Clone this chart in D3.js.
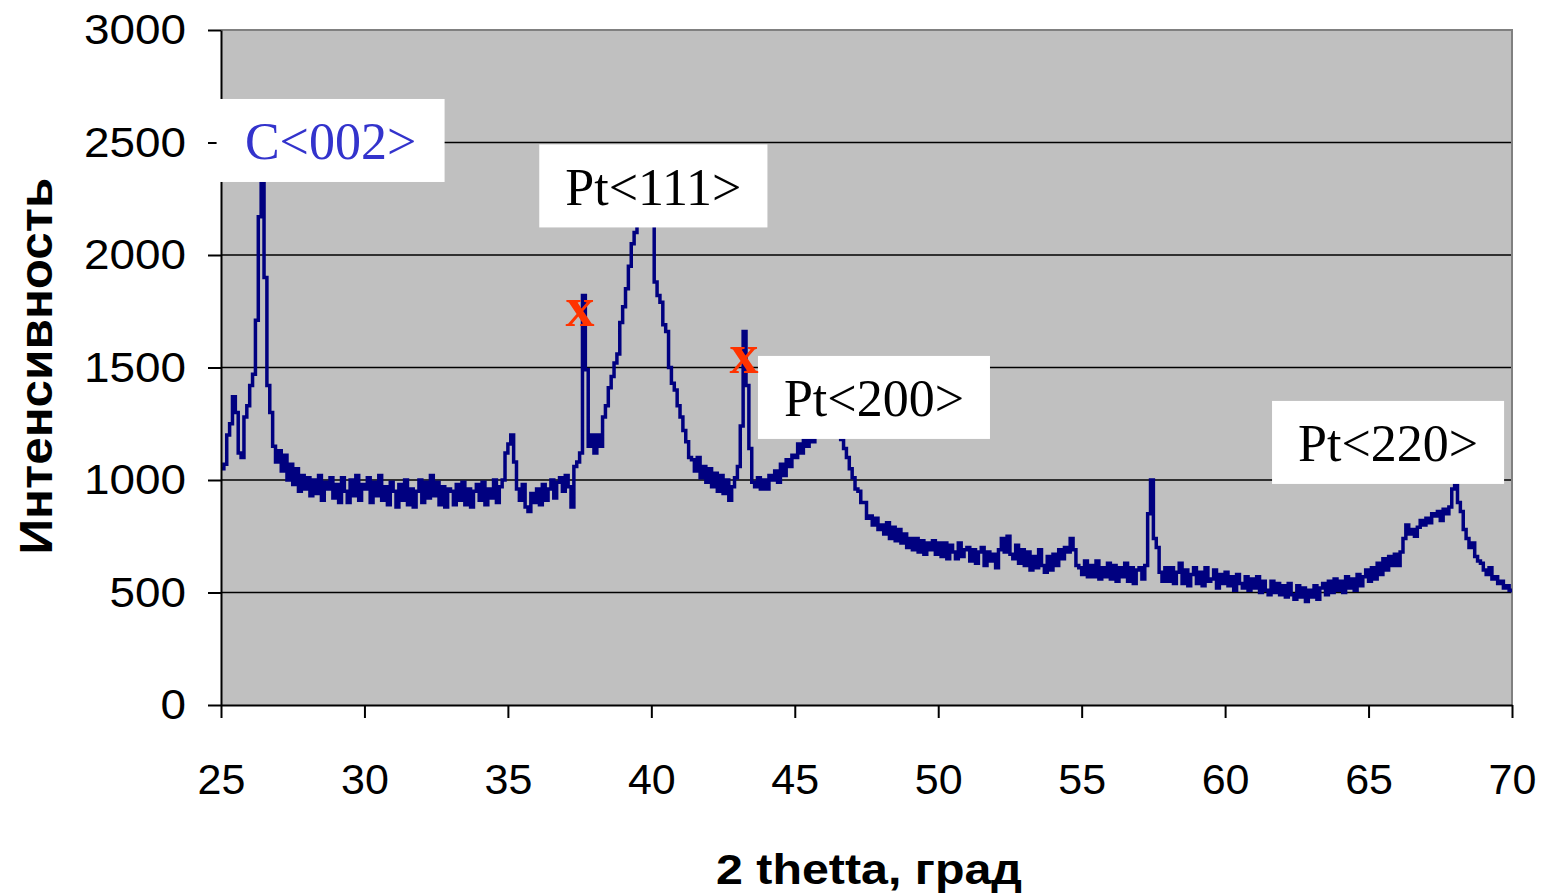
<!DOCTYPE html>
<html lang="ru">
<head>
    <meta charset="utf-8" />
    <title>XRD</title>
    <script src="https://d3js.org/d3.v7.js"></script>
    <style>
        body, html {
            margin: 0;
            background: #ffffff;
        }
        .tick text {
            font-family: "Liberation Sans", Arial, sans-serif;
            font-size: 43px;
            fill: #000;
        }
        .axisTitle {
            font-family: "Liberation Sans", Arial, sans-serif;
            font-weight: bold;
            fill: #000;
        }
        .peak {
            font-family: "Liberation Serif", "Times New Roman", serif;
            font-size: 52px;
        }
        .mark {
            font-family: "Liberation Serif", "Times New Roman", serif;
            font-weight: bold;
            font-size: 58px;
            fill: #ff3300;
        }
    </style>
</head>
<body>
    <div id="canvas"></div>
</body>
</html>
<script>
    // 2 theta grid: 25..70 deg, step 0.1
    let thetaStart = 25
    let thetaStep = 0.1

    // intensity, one row per degree
    let intensity = [
        1050, 1070, 1200, 1250, 1370, 1300, 1120, 1100, 1280, 1330,
        1420, 1470, 1710, 2170, 2450, 1900, 1420, 1300, 1150, 1080,
        1130, 1040, 1110, 1000, 1070, 980, 1050, 950, 1020, 960,
        1010, 930, 1000, 940, 1020, 910, 990, 960, 1010, 920,
        980, 900, 1010, 950, 900, 1000, 930, 1020, 910, 980,
        960, 1010, 900, 990, 930, 1020, 910, 970, 890, 990,
        950, 880, 980, 910, 1000, 890, 960, 880, 950, 1000,
        900, 990, 920, 1020, 930, 990, 890, 970, 880, 960,
        950, 890, 980, 910, 990, 890, 960, 880, 950, 980,
        910, 990, 890, 960, 920, 1000, 900, 970, 1000, 1120,
        1160, 1200, 1080, 960, 910, 980, 880, 860, 940, 900,
        960, 890, 980, 910, 960, 1000, 920, 990, 1010, 950,
        1020, 970, 880, 1060, 1080, 1120, 1820, 1490, 1150, 1200,
        1120, 1200, 1150, 1280, 1330, 1410, 1460, 1520, 1560, 1700,
        1770, 1850, 1950, 2050, 2100, 2150, 2180, 2200, 2160, 2190,
        2150, 1880, 1820, 1790, 1690, 1660, 1500, 1430, 1400, 1330,
        1280, 1220, 1170, 1100, 1090, 1040, 1100, 1010, 1060, 990,
        1050, 970, 1030, 950, 1020, 940, 1000, 910, 970, 1010,
        1060, 1240, 1660, 1420, 1140, 990, 970, 1010, 960, 1000,
        960, 1020, 1000, 1040, 990, 1070, 1020, 1090, 1060, 1110,
        1100, 1160, 1120, 1190, 1150, 1210, 1170, 1240, 1200, 1250,
        1250, 1230, 1260, 1240, 1230, 1210, 1180, 1140, 1100, 1050,
        1010, 960, 950, 900, 900, 830, 840, 800, 830, 780,
        800, 760, 810, 740, 790, 730, 780, 720, 760, 700,
        740, 690, 740, 680, 730, 670, 720, 690, 730, 670,
        720, 660, 720, 650, 710, 680, 650, 720, 660, 690,
        700, 640, 690, 630, 680, 700, 620, 680, 640, 670,
        610, 690, 740, 680, 750, 670, 650, 710, 630, 690,
        620, 680, 600, 660, 610, 690, 620, 590, 660, 600,
        670, 620, 690, 650, 700, 680, 740, 690, 620, 610,
        580, 640, 570, 620, 570, 640, 560, 610, 570, 630,
        560, 620, 550, 610, 570, 630, 550, 610, 540, 600,
        610, 560, 620, 850, 1000, 740, 700, 590, 550, 610,
        550, 610, 540, 590, 630, 540, 600, 530, 580, 610,
        540, 590, 530, 610, 550, 560, 600, 520, 580, 540,
        590, 530, 570, 510, 580, 540, 520, 570, 510, 560,
        520, 570, 500, 550, 510, 490, 550, 500, 540, 490,
        530, 480, 540, 490, 470, 530, 480, 520, 460, 510,
        480, 530, 470, 520, 540, 490, 550, 500, 560, 510,
        550, 500, 570, 520, 560, 510, 580, 530, 570, 600,
        550, 610, 560, 630, 580, 650, 600, 660, 620, 670,
        620, 680, 740, 800, 760, 780, 750, 790, 820, 800,
        830, 810, 850, 840, 860, 820, 870, 850, 880, 960,
        980, 900, 860, 780, 740, 700, 720, 660, 640, 630,
        600, 580, 610, 560, 570, 540, 550, 520, 530, 510,
        500
    ]

    let xTicks = [25, 30, 35, 40, 45, 50, 55, 60, 65, 70]
    let yTicks = [0, 500, 1000, 1500, 2000, 2500, 3000]

    // peak labels (anchor = box centre in data units)
    let peakNames = ["C<002>", "Pt<111>", "Pt<200>", "Pt<220>"]
    let peakTheta = [28.82, 40.07, 47.76, 65.68]
    let peakLevel = [2509, 2307, 1367, 1167]
    let peakColor = ["#3333cc", "#000", "#000", "#000"]

    // unidentified reflexes marked with x
    let markTheta = [37.51, 43.23]
    let markLevel = [1742, 1533]

    let data = intensity.map((v, i) => ({ t: thetaStart + i * thetaStep, v: v }))

    let width = 1544, height = 894
    let margin = { left: 221, right: 32, top: 30, bottom: 189 }

    let svg = d3.select("#canvas")
        .append("svg")
        .attr("width", width)
        .attr("height", height)

    let xScale = d3.scaleLinear()
        .domain([25, 70])
        .range([margin.left, width - margin.right])

    let yScale = d3.scaleLinear()
        .domain([0, 3000])
        .range([height - margin.bottom, margin.top])

    // plot background
    svg.append("rect")
        .attr("x", xScale(25)).attr("y", yScale(3000))
        .attr("width", xScale(70) - xScale(25))
        .attr("height", yScale(0) - yScale(3000))
        .style("fill", "#c0c0c0")

    // horizontal grid
    svg.append("g")
        .selectAll("line")
        .data(yTicks.filter(d => d > 0 && d < 3000))
        .enter()
        .append("line")
        .attr("x1", xScale(25)).attr("x2", xScale(70))
        .attr("y1", d => yScale(d)).attr("y2", d => yScale(d))
        .style("stroke", "#000")
        .style("stroke-width", 1.5)

    // top and right border (grey)
    svg.append("path")
        .attr("d", `M${xScale(25)},${yScale(3000)}H${xScale(70)}V${yScale(0)}`)
        .style("fill", "none")
        .style("stroke", "#808080")
        .style("stroke-width", 2)

    // spectrum
    svg.append("clipPath").attr("id", "plotClip")
        .append("rect")
        .attr("x", xScale(25)).attr("y", yScale(3000))
        .attr("width", xScale(70) - xScale(25))
        .attr("height", yScale(0) - yScale(3000))

    let line = d3.line()
        .x(d => xScale(d.t))
        .y(d => yScale(d.v))
        .curve(d3.curveStepAfter)

    svg.append("path")
        .datum(data)
        .attr("clip-path", "url(#plotClip)")
        .attr("d", line)
        .style("fill", "none")
        .style("stroke", "#000080")
        .style("stroke-width", 3.5)
        .style("stroke-linejoin", "miter")

    // axes
    let xAxis = d3.axisBottom(xScale)
        .tickValues(xTicks)
        .tickSize(13)
        .tickPadding(45)
        .tickSizeOuter(0)

    let yAxis = d3.axisLeft(yScale)
        .tickValues(yTicks)
        .tickFormat(d3.format("d"))
        .tickSize(13)
        .tickPadding(22)
        .tickSizeOuter(0)

    let gx = svg.append("g")
        .attr("transform", `translate(0, ${yScale(0)})`)
        .call(xAxis)

    let gy = svg.append("g")
        .attr("transform", `translate(${xScale(25)}, 0)`)
        .call(yAxis)

    gx.selectAll(".domain, .tick line").style("stroke", "#000").style("stroke-width", 2)
    gy.selectAll(".domain, .tick line").style("stroke", "#000").style("stroke-width", 2)

    // y labels are drawn a bit wider in the original
    gy.selectAll(".tick text")
        .attr("textLength", d => String(d).length * 25.5)
        .attr("lengthAdjust", "spacingAndGlyphs")

    // axis titles
    svg.append("text")
        .attr("class", "axisTitle")
        .attr("transform", "translate(52, 366) rotate(-90)")
        .attr("text-anchor", "middle")
        .attr("textLength", 377)
        .attr("lengthAdjust", "spacingAndGlyphs")
        .style("font-size", "46px")
        .text("Интенсивность")

    svg.append("text")
        .attr("class", "axisTitle")
        .attr("x", 869).attr("y", 884)
        .attr("text-anchor", "middle")
        .attr("textLength", 306)
        .attr("lengthAdjust", "spacingAndGlyphs")
        .style("font-size", "42px")
        .text("2 thetta, град")

    // peak labels in white boxes
    peakNames.forEach((name, i) => {
        let g = svg.append("g")
            .attr("transform", `translate(${xScale(peakTheta[i])}, ${yScale(peakLevel[i])})`)
        let box = g.append("rect")
        let t = g.append("text")
            .attr("class", "peak")
            .attr("text-anchor", "middle")
            .attr("y", 19)
            .style("fill", peakColor[i])
            .text(name)
        let w = Math.max(t.node().getComputedTextLength() + 52, 228)
        box.attr("x", -w / 2).attr("y", -41.5)
            .attr("width", w).attr("height", 83)
            .style("fill", "#fff")
    })

    // x marks
    markTheta.forEach((m, i) => {
        svg.append("text")
            .attr("class", "mark")
            .attr("x", xScale(m)).attr("y", yScale(markLevel[i]) + 13)
            .attr("text-anchor", "middle")
            .text("x")
    })
</script>
